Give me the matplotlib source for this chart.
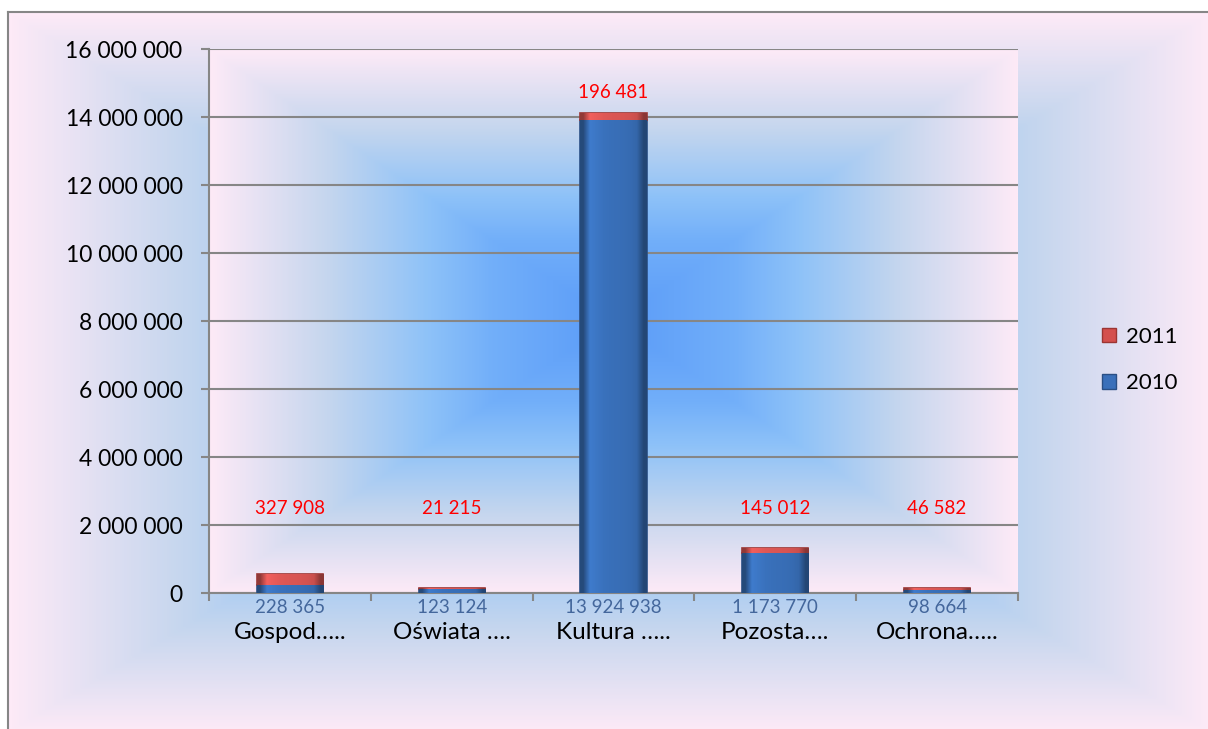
import matplotlib
matplotlib.use("Agg")
import matplotlib.pyplot as plt
import numpy as np
from matplotlib.colors import LinearSegmentedColormap
from matplotlib.patches import Patch

categories = ["Gospod…..", "Oświata ….", "Kultura …..", "Pozosta….", "Ochrona….."]
values_2010 = [228365, 123124, 13924938, 1173770, 98664]
values_2011 = [327908, 21215, 196481, 145012, 46582]
y_ticks = [0, 2000000, 4000000, 6000000, 8000000, 10000000, 12000000, 14000000, 16000000]

plt.rcParams['font.family'] = ['Lato', 'DejaVu Sans']

W, H = 1208, 729
fig = plt.figure(figsize=(W / 100, H / 100), dpi=100)
fig.patch.set_facecolor("white")

grad_cmap = LinearSegmentedColormap.from_list(
    "bg", [(0.0, "#5a9bf8"), (0.3, "#72affa"), (0.46, "#8ec2f8"),
           (0.71, "#c5d6ee"), (1.0, "#fdeaf7")])


def rect_gradient(nx, ny):
    gx, gy = np.meshgrid(np.linspace(-1, 1, nx), np.linspace(-1, 1, ny))
    return np.maximum(np.abs(gx), np.abs(gy))


def px_box(x0, y0, x1, y1):
    # pixel box (top-left origin) -> figure fraction rect
    return [x0 / W, 1 - y1 / H, (x1 - x0) / W, (y1 - y0) / H]


# chart area background
bg = fig.add_axes(px_box(8, 12, 1212, 733), zorder=0)
bg.imshow(rect_gradient(400, 240), cmap=grad_cmap, vmin=0, vmax=1,
          aspect="auto", extent=[0, 1, 0, 1], interpolation="bilinear")
bg.set_xlim(0, 1)
bg.set_ylim(0, 1)
bg.set_xticks([])
bg.set_yticks([])
for side in ["right", "bottom"]:
    bg.spines[side].set_visible(False)
for side in ["left", "top"]:
    bg.spines[side].set_color("#868686")
    bg.spines[side].set_linewidth(1.5)

# plot area background
plot_box = px_box(209, 49, 1018, 593)
pbg = fig.add_axes(plot_box, zorder=1)
pbg.imshow(rect_gradient(400, 240), cmap=grad_cmap, vmin=0, vmax=1,
           aspect="auto", extent=[0, 1, 0, 1], interpolation="bilinear")
pbg.axis("off")

ax = fig.add_axes(plot_box, zorder=2)
ax.set_facecolor("none")

x = np.arange(len(categories))
width = 0.41
bars10 = ax.bar(x, values_2010, width, color="#3a70ba", edgecolor="#2a4f85",
                linewidth=1.2, label="2010", zorder=3)
bars11 = ax.bar(x, values_2011, width, bottom=values_2010, color="#d4504e",
                edgecolor="#9c3533", linewidth=1.2, label="2011", zorder=3)

# bevel-like shading inside bars
shade = np.array([[0.65, 1.08, 1.04, 1.0, 0.98, 0.97, 0.96, 0.94, 0.9, 0.62]])
for bars, base in [(bars10, "#3a72bd"), (bars11, "#e05856")]:
    rgb = np.array(matplotlib.colors.to_rgb(base))
    img = shade[..., None] * rgb[None, None, :]
    for b in bars:
        bx, by = b.get_x(), b.get_y()
        im = ax.imshow(np.clip(img, 0, 1), extent=[bx, bx + b.get_width(), by, by + b.get_height()],
                       aspect="auto", interpolation="bilinear", zorder=3.5)
        im.set_clip_path(b)

ax.set_xlim(-0.5, len(categories) - 0.5)
ax.set_ylim(0, 16000000)
ax.set_yticks(y_ticks)
ax.set_yticklabels([f"{v:,}".replace(",", " ") for v in y_ticks], fontsize=16.5)
ax.yaxis.grid(True, color="#868686", linewidth=1.5, zorder=1)
ax.set_axisbelow(True)

ax.set_xticks(np.arange(len(categories) + 1) - 0.5)
ax.set_xticklabels([])
ax.set_xticks(x, minor=True)
ax.set_xticklabels(categories, minor=True, fontsize=17.5)
ax.tick_params(axis="x", which="minor", length=0, pad=21)
ax.tick_params(axis="x", which="major", length=6, width=1.5, color="#868686")
ax.tick_params(axis="y", length=6, width=1.5, color="#868686", pad=13)

for side in ["top", "right"]:
    ax.spines[side].set_visible(False)
for side in ["left", "bottom"]:
    ax.spines[side].set_color("#868686")
    ax.spines[side].set_linewidth(1.5)

# value labels
for xi, v10, v11 in zip(x, values_2010, values_2011):
    ax.annotate(f"{v10:,}".replace(",", " "), (xi, 0), xytext=(0, -10.5),
                textcoords="offset points", ha="center", va="center",
                fontsize=13.5, color="#44679c")
    top = max(v10 + v11, 1900000) + 600000
    ax.text(xi, top, f"{v11:,}".replace(",", " "), ha="center", va="center",
            fontsize=13.5, color="#ff0000")

handles = [Patch(facecolor="#d4504e", edgecolor="#9c3533", label="2011"),
           Patch(facecolor="#3a70ba", edgecolor="#2a4f85", label="2010")]
fig.legend(handles=handles, loc="center left",
           bbox_to_anchor=(1102 / W, 1 - 360 / H), frameon=False,
           fontsize=16, handlelength=0.62, handleheight=0.62,
           handletextpad=0.45, labelspacing=1.2, borderpad=0,
           borderaxespad=0)

fig.savefig("out.png", dpi=100)
